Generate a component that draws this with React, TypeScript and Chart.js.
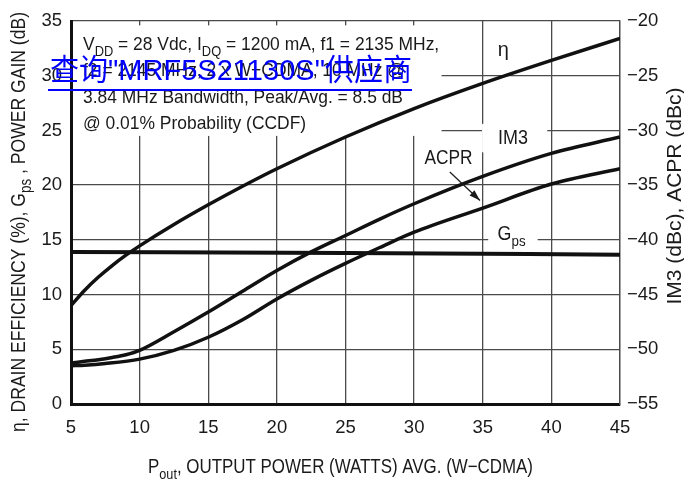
import React, { useEffect, useRef } from 'react';
import { Chart, registerables } from 'chart.js';

Chart.register(...registerables);

// ---------- data ----------
const etaX = [5, 6, 7, 8, 9, 10, 12.5, 15, 17.5, 20, 25, 30, 35, 40, 45];
const etaY = [9.0, 10.4, 11.6, 12.65, 13.6, 14.45, 16.4, 18.2, 19.9, 21.5, 24.4, 27.0, 29.3, 31.4, 33.4];

const im3X = [5, 6, 7, 8, 9, 10, 12.5, 15, 17.5, 20, 22.5, 25, 27.5, 30, 35, 40, 45];
const im3Y = [3.75, 3.9, 4.05, 4.25, 4.5, 4.9, 6.6, 8.4, 10.3, 12.2, 13.9, 15.4, 16.9, 18.3, 20.8, 22.9, 24.4];

const acprX = [5, 6, 7.5, 10, 12.5, 15, 17.5, 20, 22.5, 25, 27.5, 30, 35, 40, 45];
const acprY = [3.5, 3.55, 3.7, 4.1, 4.9, 6.1, 7.7, 9.6, 11.3, 12.85, 14.3, 15.7, 17.9, 20.1, 21.5];

const gpsX = [5, 25, 45];
const gpsY = [13.9, 13.8, 13.65];

const xRange = [5, 45];
const yLeftRange = [0, 35];
const yRightRange = [-55, -20];
const tickStep = 5;

const FONT = '"Liberation Sans", Arial, Helvetica, sans-serif';
const CJK = '"Liberation Sans", Arial, "Noto Sans CJK SC", sans-serif';
const INK = '#1a1a1a';

type Seg = { t: string; sub?: boolean };

function segsWidth(ctx: CanvasRenderingContext2D, segs: Seg[], size: number, fam = FONT) {
  let w = 0;
  for (const s of segs) {
    ctx.font = `${s.sub ? Math.round(size * 0.75) : size}px ${fam}`;
    w += ctx.measureText(s.t).width;
  }
  return w;
}

function drawSegs(ctx: CanvasRenderingContext2D, segs: Seg[], size: number, x: number, y: number, sx: number, fam = FONT) {
  ctx.save();
  ctx.translate(x, y);
  ctx.scale(sx, 1);
  ctx.textBaseline = 'alphabetic';
  ctx.textAlign = 'left';
  let cx = 0;
  for (const s of segs) {
    const fs = s.sub ? Math.round(size * 0.75) : size;
    ctx.font = `${fs}px ${fam}`;
    ctx.fillText(s.t, cx, s.sub ? size * 0.3 : 0);
    cx += ctx.measureText(s.t).width;
  }
  ctx.restore();
}

// draw centred (horizontally) at cx, with caps vertically centred at cy, fit to width
function drawCentered(ctx: CanvasRenderingContext2D, segs: Seg[], size: number, cx: number, cy: number, target: number | null, rot = 0) {
  const w = segsWidth(ctx, segs, size);
  const sx = target ? target / w : 1;
  ctx.save();
  ctx.translate(cx, cy);
  if (rot) ctx.rotate(rot);
  drawSegs(ctx, segs, size, -(w * sx) / 2, size * 0.36, sx);
  ctx.restore();
}

const annoLines: Seg[][] = [
  [{ t: 'V' }, { t: 'DD', sub: true }, { t: ' = 28 Vdc, I' }, { t: 'DQ', sub: true }, { t: ' = 1200 mA, f1 = 2135 MHz,' }],
  [{ t: 'f2 = 2145 MHz, 2 x W\u2212CDMA, 10 MHz @' }],
  [{ t: '3.84 MHz Bandwidth, Peak/Avg. = 8.5 dB' }],
  [{ t: '@ 0.01% Probability (CCDF)' }],
];

const overlayPlugin = {
  id: 'overlay',
  beforeDatasetsDraw(chart: any) {
    const { ctx, scales } = chart;
    const x = scales.x, y = scales.y;
    ctx.save();
    ctx.fillStyle = '#ffffff';
    // annotation text box
    const l = chart.chartArea.left + 2;
    const r = x.getPixelForValue(32.0);
    const t = y.getPixelForValue(34.6);
    const b = y.getPixelForValue(24.5);
    ctx.fillRect(l, t, r - l, b - t);
    // IM3 label box
    ctx.fillRect(x.getPixelForValue(34.95), y.getPixelForValue(25.6), x.getPixelForValue(39.7) - x.getPixelForValue(34.95), y.getPixelForValue(23.0) - y.getPixelForValue(25.6));
    // Gps label box
    ctx.fillRect(x.getPixelForValue(35.4), y.getPixelForValue(16.3), x.getPixelForValue(39.0) - x.getPixelForValue(35.4), y.getPixelForValue(14.3) - y.getPixelForValue(16.3));
    ctx.restore();
  },
  afterDraw(chart: any) {
    const { ctx, scales, chartArea } = chart;
    const x = scales.x, y = scales.y;
    ctx.save();
    ctx.fillStyle = INK;

    // annotation block
    const annoSize = 19;
    const w3 = segsWidth(ctx, annoLines[2], annoSize);
    const sx = 320 / w3;
    const ax = chartArea.left + 12;
    const baselines = [29, 55, 82, 108];
    annoLines.forEach((segs, i) => drawSegs(ctx, segs, annoSize, ax, chartArea.top + baselines[i], sx));

    // curve labels
    drawCentered(ctx, [{ t: '\u03b7' }], 20, x.getPixelForValue(36.5), y.getPixelForValue(32.5), null);
    drawCentered(ctx, [{ t: 'IM3' }], 20, x.getPixelForValue(37.2), y.getPixelForValue(24.4), 30);
    drawCentered(ctx, [{ t: 'ACPR' }], 20, x.getPixelForValue(32.5), y.getPixelForValue(22.6), 48);
    drawCentered(ctx, [{ t: 'G' }, { t: 'ps', sub: true }], 20, x.getPixelForValue(37.1), y.getPixelForValue(15.6), 28);

    // ACPR arrow
    const x0 = x.getPixelForValue(32.6), y0 = y.getPixelForValue(21.2);
    const x1 = x.getPixelForValue(34.8), y1 = y.getPixelForValue(18.6);
    ctx.strokeStyle = INK;
    ctx.lineWidth = 1.2;
    ctx.beginPath();
    ctx.moveTo(x0, y0);
    ctx.lineTo(x1, y1);
    ctx.stroke();
    const ang = Math.atan2(y1 - y0, x1 - x0);
    const hl = 11, hw = 3.5;
    ctx.beginPath();
    ctx.moveTo(x1, y1);
    ctx.lineTo(x1 - hl * Math.cos(ang) + hw * Math.sin(ang), y1 - hl * Math.sin(ang) - hw * Math.cos(ang));
    ctx.lineTo(x1 - hl * Math.cos(ang) - hw * Math.sin(ang), y1 - hl * Math.sin(ang) + hw * Math.cos(ang));
    ctx.closePath();
    ctx.fill();

    // axis titles
    drawCentered(ctx, [{ t: 'P' }, { t: 'out', sub: true }, { t: ', OUTPUT POWER (WATTS) AVG. (W\u2212CDMA)' }], 20, (chartArea.left + chartArea.right) / 2 - 5, 466, 385);
    drawCentered(ctx, [{ t: '\u03b7, DRAIN EFFICIENCY (%), G' }, { t: 'ps', sub: true }, { t: ' , POWER GAIN (dB)' }], 21, 17, 222, 420, -Math.PI / 2);
    drawCentered(ctx, [{ t: 'IM3 (dBc), ACPR (dBc)' }], 20, 674, 196, 217, -Math.PI / 2);

    // watermark link
    const wm: Seg[] = [{ t: '\u67e5\u8be2"MRF5S21130S"\u4f9b\u5e94\u5546' }];
    const wsize = 30;
    const ww = segsWidth(ctx, wm, wsize, CJK);
    ctx.fillStyle = '#0000ff';
    drawSegs(ctx, wm, wsize, 50, 80, 362 / ww, CJK);
    ctx.fillRect(48, 89, 364, 2);
    ctx.restore();
  },
};

export default function App() {
  const ref = useRef<HTMLCanvasElement | null>(null);
  useEffect(() => {
    if (!ref.current) return;
    const pts = (xs: number[], ys: number[]) => xs.map((v, i) => ({ x: v, y: ys[i] }));
    const line = (label: string, data: any, w: number) => ({
      label,
      data,
      borderColor: '#111',
      borderWidth: w,
      pointRadius: 0,
      fill: false,
      cubicInterpolationMode: 'monotone' as const,
      yAxisID: 'y',
    });
    const gridCommon = { color: '#4a4a4a', lineWidth: 1.3, drawTicks: false };
    const tickFont = { family: FONT, size: 18.5 };
    const chart = new Chart(ref.current, {
      type: 'line',
      data: {
        datasets: [
          line('Gps', pts(gpsX, gpsY), 4),
          line('ACPR', pts(acprX, acprY), 3.5),
          line('IM3', pts(im3X, im3Y), 3.5),
          line('eta', pts(etaX, etaY), 3.5),
        ],
      },
      options: {
        animation: false,
        responsive: false,
        devicePixelRatio: 1,
        layout: { padding: { top: 21, left: 0, right: 0, bottom: 0 } },
        plugins: { legend: { display: false }, tooltip: { enabled: false } },
        scales: {
          x: {
            type: 'linear',
            min: xRange[0],
            max: xRange[1],
            ticks: { stepSize: tickStep, color: INK, font: tickFont, padding: 13 },
            grid: gridCommon,
            border: { color: '#111', width: 3 },
            afterFit: (s: any) => { s.height = 75; s.paddingLeft = 0; s.paddingRight = 0; },
          },
          y: {
            type: 'linear',
            position: 'left',
            min: yLeftRange[0],
            max: yLeftRange[1],
            ticks: { stepSize: tickStep, color: INK, font: tickFont, padding: 9 },
            grid: gridCommon,
            border: { color: '#111', width: 3 },
            afterFit: (s: any) => { s.width = 71; s.paddingTop = 0; s.paddingBottom = 0; },
          },
          y2: {
            type: 'linear',
            position: 'right',
            min: yRightRange[0],
            max: yRightRange[1],
            ticks: {
              stepSize: tickStep,
              color: INK,
              font: tickFont,
              padding: 7,
              callback: (v: any) => (Number(v) < 0 ? '\u2212' + Math.abs(Number(v)) : String(v)),
            },
            grid: { drawOnChartArea: false, drawTicks: false },
            border: { color: '#4a4a4a', width: 1.3 },
            afterFit: (s: any) => { s.width = 64; s.paddingTop = 0; s.paddingBottom = 0; },
          },
        },
      } as any,
      plugins: [overlayPlugin],
    });
    return () => chart.destroy();
  }, []);
  return (
    <canvas
      ref={ref}
      width={684}
      height={479}
      style={{ position: 'fixed', left: 0, top: 0, width: 684, height: 479, background: '#fff' }}
    />
  );
}
